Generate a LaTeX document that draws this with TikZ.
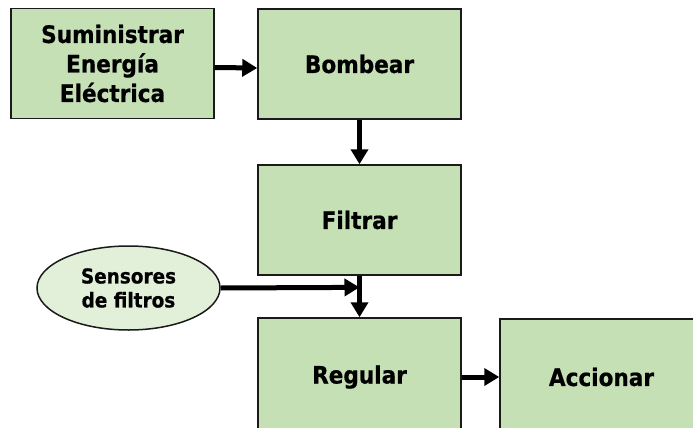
\documentclass[tikz,border=0pt]{standalone}
\usepackage{fontspec}
\setmainfont{DejaVu Sans Condensed}[BoldFeatures={FakeBold=0.6}]
\usetikzlibrary{arrows.meta,shapes.geometric,calc}
\definecolor{boxgreen}{HTML}{C5E0B4}
\definecolor{ovalgreen}{HTML}{E2F0D9}
\definecolor{edge}{HTML}{1A1A1A}
\begin{document}
\begin{tikzpicture}[x=1pt,y=-1pt,
  block/.style={draw=edge, line width=1.5pt, fill=boxgreen, minimum width=203pt,
    minimum height=110pt, inner sep=0pt, align=center,
    font=\bfseries\fontsize{24}{29.5}\selectfont},
  sensor/.style={ellipse, draw=edge, line width=1.5pt, fill=ovalgreen,
    minimum width=183pt, minimum height=84pt, inner sep=0pt, align=center,
    font=\bfseries\fontsize{20.5}{24}\selectfont},
  flow/.style={line width=5pt, -{Triangle[length=15pt,width=17pt]}}]
\useasboundingbox (0,0) rectangle (693,428);
\clip (0,0) rectangle (693,428);
% process blocks
\node[block] (sum) at (112.5,63.5) {Suministrar\\Energía\\Eléctrica};
\node[block] (bom) at (359.5,64) {Bombear};
\node[block] (fil) at (359.5,220) {Filtrar};
\node[block, minimum height=118pt] (reg) at (359.5,377) {Regular};
\node[block, minimum height=116pt] (acc) at (601.5,377) {Accionar};
% sensor input
\node[sensor] (sen) at (128.5,288) {Sensores\\de filtros};
% junction on the Filtrar--Regular link
\coordinate (j) at ($(fil.south)!0.28!(reg.north)$);
% connectors
\draw[flow] ([yshift=-4pt]sum.east) -- ([yshift=-4pt]bom.west);
\draw[flow] (bom.south) -- (fil.north);
\draw[flow] (fil.south) -- (reg.north);
\draw[flow] (sen.east) -- (j);
\draw[flow] (reg.east) -- (acc.west);
\end{tikzpicture}
\end{document}
